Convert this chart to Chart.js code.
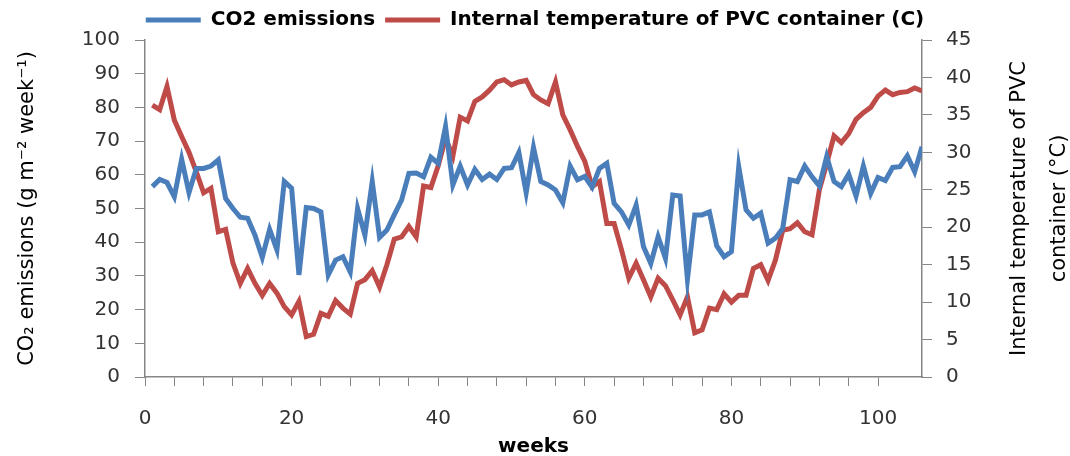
<!DOCTYPE html>
<html>
<head>
<meta charset="utf-8">
<script src="https://cdn.jsdelivr.net/npm/chart.js@4/dist/chart.umd.min.js"></script>
<style>
  html, body { margin: 0; padding: 0; background: #fff; }
  #wrap { width: 1070px; height: 456px; }
</style>
</head>
<body>
<div id="wrap"><canvas id="co2-chart"></canvas></div>
<script>

    // Data

    var weeks = [
        1, 2, 3, 4, 5, 6, 7, 8, 9, 10, 11, 12, 13, 14, 15, 16, 17, 18, 19, 20,
        21, 22, 23, 24, 25, 26, 27, 28, 29, 30, 31, 32, 33, 34, 35, 36, 37, 38, 39, 40,
        41, 42, 43, 44, 45, 46, 47, 48, 49, 50, 51, 52, 53, 54, 55, 56, 57, 58, 59, 60,
        61, 62, 63, 64, 65, 66, 67, 68, 69, 70, 71, 72, 73, 74, 75, 76, 77, 78, 79, 80,
        81, 82, 83, 84, 85, 86, 87, 88, 89, 90, 91, 92, 93, 94, 95, 96, 97, 98, 99, 100,
        101, 102, 103, 104, 105, 106
    ];

    var co2Emissions = [
        56.5, 58.6, 57.7, 53.5, 64.6, 54.7, 61.9, 61.9, 62.6, 64.4,
        53.0, 50.0, 47.4, 47.1, 42.1, 35.5, 43.8, 37.7, 58.0, 56.0,
        30.3, 50.3, 50.0, 49.0, 30.3, 34.7, 35.7, 31.2, 50.0, 42.1,
        58.0, 41.4, 43.6, 48.1, 52.5, 60.4, 60.5, 59.4, 65.2, 63.4,
        74.3, 57.0, 62.6, 57.0, 61.6, 58.6, 60.2, 58.6, 61.9, 62.1,
        66.6, 54.7, 68.1, 58.0, 57.0, 55.5, 51.7, 62.6, 58.5, 59.5,
        56.3, 61.9, 63.4, 51.5, 49.0, 45.1, 51.0, 38.7, 33.7, 41.6,
        35.2, 54.0, 53.7, 29.0, 48.1, 48.1, 49.0, 38.9, 35.7, 37.2,
        62.4, 49.6, 47.1, 48.6, 39.7, 41.2, 44.1, 58.5, 58.0, 62.6,
        59.4, 56.7, 65.4, 58.0, 56.5, 60.2, 53.7, 62.6, 54.5, 59.2,
        58.3, 62.2, 62.4, 65.6, 60.9, 68.3
    ];

    var pvcTemperature = [
        36.3, 35.7, 38.8, 34.3, 32.1, 30.0, 27.4, 24.6, 25.2, 19.4,
        19.7, 15.2, 12.5, 14.5, 12.5, 10.9, 12.5, 11.2, 9.4, 8.3,
        10.1, 5.4, 5.7, 8.5, 8.1, 10.2, 9.2, 8.4, 12.5, 13.0,
        14.2, 12.0, 15.0, 18.4, 18.7, 20.1, 18.7, 25.5, 25.3, 28.2,
        31.9, 29.5, 34.7, 34.2, 36.8, 37.4, 38.3, 39.4, 39.7, 39.0,
        39.4, 39.6, 37.7, 37.0, 36.5, 39.4, 35.0, 33.0, 30.8, 28.8,
        25.4, 26.1, 20.5, 20.5, 17.0, 13.2, 15.2, 13.0, 10.7, 13.2,
        12.2, 10.3, 8.3, 10.7, 5.9, 6.3, 9.2, 9.0, 11.1, 10.0,
        10.9, 10.9, 14.5, 15.0, 12.9, 15.6, 19.6, 19.8, 20.6, 19.4,
        19.0, 25.0, 28.5, 32.2, 31.3, 32.5, 34.4, 35.3, 36.0, 37.5,
        38.3, 37.7, 38.0, 38.1, 38.6, 38.2
    ];

    var co2Ticks = [0, 10, 20, 30, 40, 50, 60, 70, 80, 90, 100];
    var tempTicks = [0, 5, 10, 15, 20, 25, 30, 35, 40, 45];
    var weekLabels = [0, 20, 40, 60, 80, 100];

    var co2Title = 'CO\u2082 emissions (g m\u207B\u00B2 week\u207B\u00B9)';
    var tempTitle = ['Internal temperature of PVC', 'container (\u00B0C)'];


    // Settings

    var axisColor = '#868686';
    var tickFont = { family: '"DejaVu Sans"', size: 20 };

    function toPoints(values) {
        return values.map(function (v, i) { return { x: weeks[i], y: v }; });
    }

    // right-hand title reads bottom to top like the left one
    var rightTitle = {
        id: 'rightTitle',
        afterDraw: function (chart) {
            var ctx = chart.ctx;
            var area = chart.chartArea;
            var cy = (area.top + area.bottom) / 2;
            ctx.save();
            ctx.font = '21px "DejaVu Sans"';
            ctx.fillStyle = '#000';
            ctx.textAlign = 'center';
            ctx.textBaseline = 'middle';
            tempTitle.forEach(function (line, i) {
                ctx.save();
                ctx.translate(chart.width - 50 + i * 40, cy);
                ctx.rotate(-Math.PI / 2);
                ctx.fillText(line, 0, 0);
                ctx.restore();
            });
            ctx.restore();
        }
    };


    // Chart

    var co2Chart = new Chart(document.getElementById('co2-chart'), {
        type: 'line',
        data: {
            datasets: [{
                label: 'CO2 emissions',
                data: toPoints(co2Emissions),
                borderColor: '#4A7EBB',
                backgroundColor: '#4A7EBB',
                borderWidth: 5,
                pointRadius: 0,
                tension: 0,
                yAxisID: 'y'
            }, {
                label: 'Internal temperature of PVC container (C)',
                data: toPoints(pvcTemperature),
                borderColor: '#BE4B48',
                backgroundColor: '#BE4B48',
                borderWidth: 5,
                pointRadius: 0,
                tension: 0,
                yAxisID: 'y1'
            }]
        },
        options: {
            responsive: true,
            maintainAspectRatio: false,
            animation: false,
            layout: { padding: 0 },
            plugins: {
                legend: {
                    position: 'top',
                    labels: {
                        usePointStyle: true,
                        pointStyle: 'line',
                        pointStyleWidth: 55,
                        padding: 10,
                        color: '#000',
                        font: { family: '"DejaVu Sans"', size: 20, weight: 'bold' }
                    }
                },
                tooltip: { enabled: false }
            },
            scales: {
                x: {
                    type: 'linear',
                    min: 0,
                    max: 106,
                    afterFit: function (scale) { scale.height = 79; },
                    afterBuildTicks: function (scale) {
                        scale.ticks = scale.ticks.filter(function (t) { return t.value % 4 === 0; });
                    },
                    ticks: {
                        stepSize: 4,
                        autoSkip: false,
                        maxRotation: 0,
                        padding: 21,
                        color: '#333',
                        font: tickFont,
                        callback: function (v) { return weekLabels.indexOf(v) >= 0 ? v : ''; }
                    },
                    grid: { drawOnChartArea: false, tickLength: 9, color: axisColor },
                    border: { color: axisColor, width: 1.5 },
                    title: {
                        display: true,
                        text: 'weeks',
                        color: '#000',
                        padding: { top: 0, bottom: 0 },
                        font: { family: '"DejaVu Sans"', size: 20, weight: 'bold', lineHeight: 0.9 }
                    }
                },
                y: {
                    position: 'left',
                    min: 0,
                    max: 100,
                    afterFit: function (scale) { scale.width = 145; },
                    afterBuildTicks: function (scale) {
                        scale.ticks = co2Ticks.map(function (v) { return { value: v }; });
                    },
                    ticks: { padding: 15, color: '#333', font: tickFont },
                    grid: { drawOnChartArea: false, tickLength: 10, color: axisColor },
                    border: { color: axisColor, width: 1.5 },
                    title: {
                        display: true,
                        text: co2Title,
                        color: '#000',
                        padding: { top: 15, bottom: 0 },
                        font: { family: '"DejaVu Sans"', size: 21 }
                    }
                },
                y1: {
                    position: 'right',
                    min: 0,
                    max: 45,
                    afterFit: function (scale) { scale.width = 148; },
                    afterBuildTicks: function (scale) {
                        scale.ticks = tempTicks.map(function (v) { return { value: v }; });
                    },
                    ticks: { padding: 14, color: '#333', font: tickFont },
                    grid: { drawOnChartArea: false, tickLength: 10, color: axisColor },
                    border: { color: axisColor, width: 1.5 }
                }
            }
        },
        plugins: [rightTitle]
    });

</script>
</body>
</html>
